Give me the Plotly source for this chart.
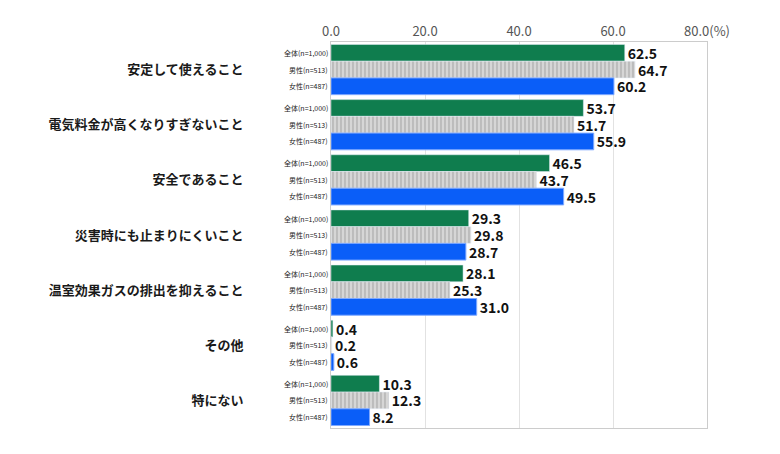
import plotly.graph_objects as go

categories = ["安定して使えること", "電気料金が高くなりすぎないこと", "安全であること",
              "災害時にも止まりにくいこと", "温室効果ガスの排出を抑えること", "その他", "特にない"]
series_names = ["全体(n=1,000)", "男性(n=513)", "女性(n=487)"]
total_vals = [62.5, 53.7, 46.5, 29.3, 28.1, 0.4, 10.3]
male_vals = [64.7, 51.7, 43.7, 29.8, 25.3, 0.2, 12.3]
female_vals = [60.2, 55.9, 49.5, 28.7, 31.0, 0.6, 8.2]
tick_vals = [0, 20, 40, 60, 80]
tick_text = ["0.0", "20.0", "40.0", "60.0", "80.0(%)"]

FONT = "Noto Sans CJK JP"

fig = go.Figure()
styles = [
    dict(color="#0f7d4e"),
    dict(color="#cfcfcf", pattern=dict(shape="|", fgcolor="#8f8f8f", bgcolor="#d6d6d6", size=4, solidity=0.35)),
    dict(color="#0a5ef8", line=dict(color="#7fa9ff", width=1)),
]
for name, vals, st in zip(series_names, [total_vals, male_vals, female_vals], styles):
    fig.add_trace(go.Bar(
        y=categories, x=vals, name=name, orientation="h",
        marker=st,
        texttemplate="%{x:.1f}", textposition="outside",
        textfont=dict(family=FONT, size=14, color="#111111", weight="bold"),
        constraintext="none", cliponaxis=False,
    ))

# small series labels beside each bar
offsets = [-16.5, 0, 16.5]
for cat in categories:
    for name, off in zip(series_names, offsets):
        fig.add_annotation(
            xref="paper", x=0, yref="y", y=cat, yshift=-off,
            text=name, showarrow=False, xanchor="right", xshift=-1,
            font=dict(family=FONT, size=7, color="#222222"),
        )

fig.update_layout(
    width=780, height=454,
    margin=dict(l=331, r=73, t=42, b=26),
    barmode="group", bargap=0.09, bargroupgap=0,
    showlegend=False,
    plot_bgcolor="white", paper_bgcolor="white",
    font=dict(family=FONT),
)
fig.update_xaxes(
    side="top", range=[0, 80], tickvals=tick_vals, ticktext=tick_text,
    tickfont=dict(family=FONT, size=13, color="#555555"),
    showgrid=True, gridcolor="#e2e2e2", gridwidth=1,
    showline=True, mirror=True, linecolor="#cccccc", linewidth=1,
    zeroline=False, ticks="",
)
fig.update_yaxes(
    autorange="reversed",
    tickfont=dict(family=FONT, size=13, color="#1a1a1a", weight="bold"),
    ticklabelstandoff=84,
    showline=True, mirror=True, linecolor="#cccccc", linewidth=1,
    ticks="",
)

fig.write_html("out.html")
